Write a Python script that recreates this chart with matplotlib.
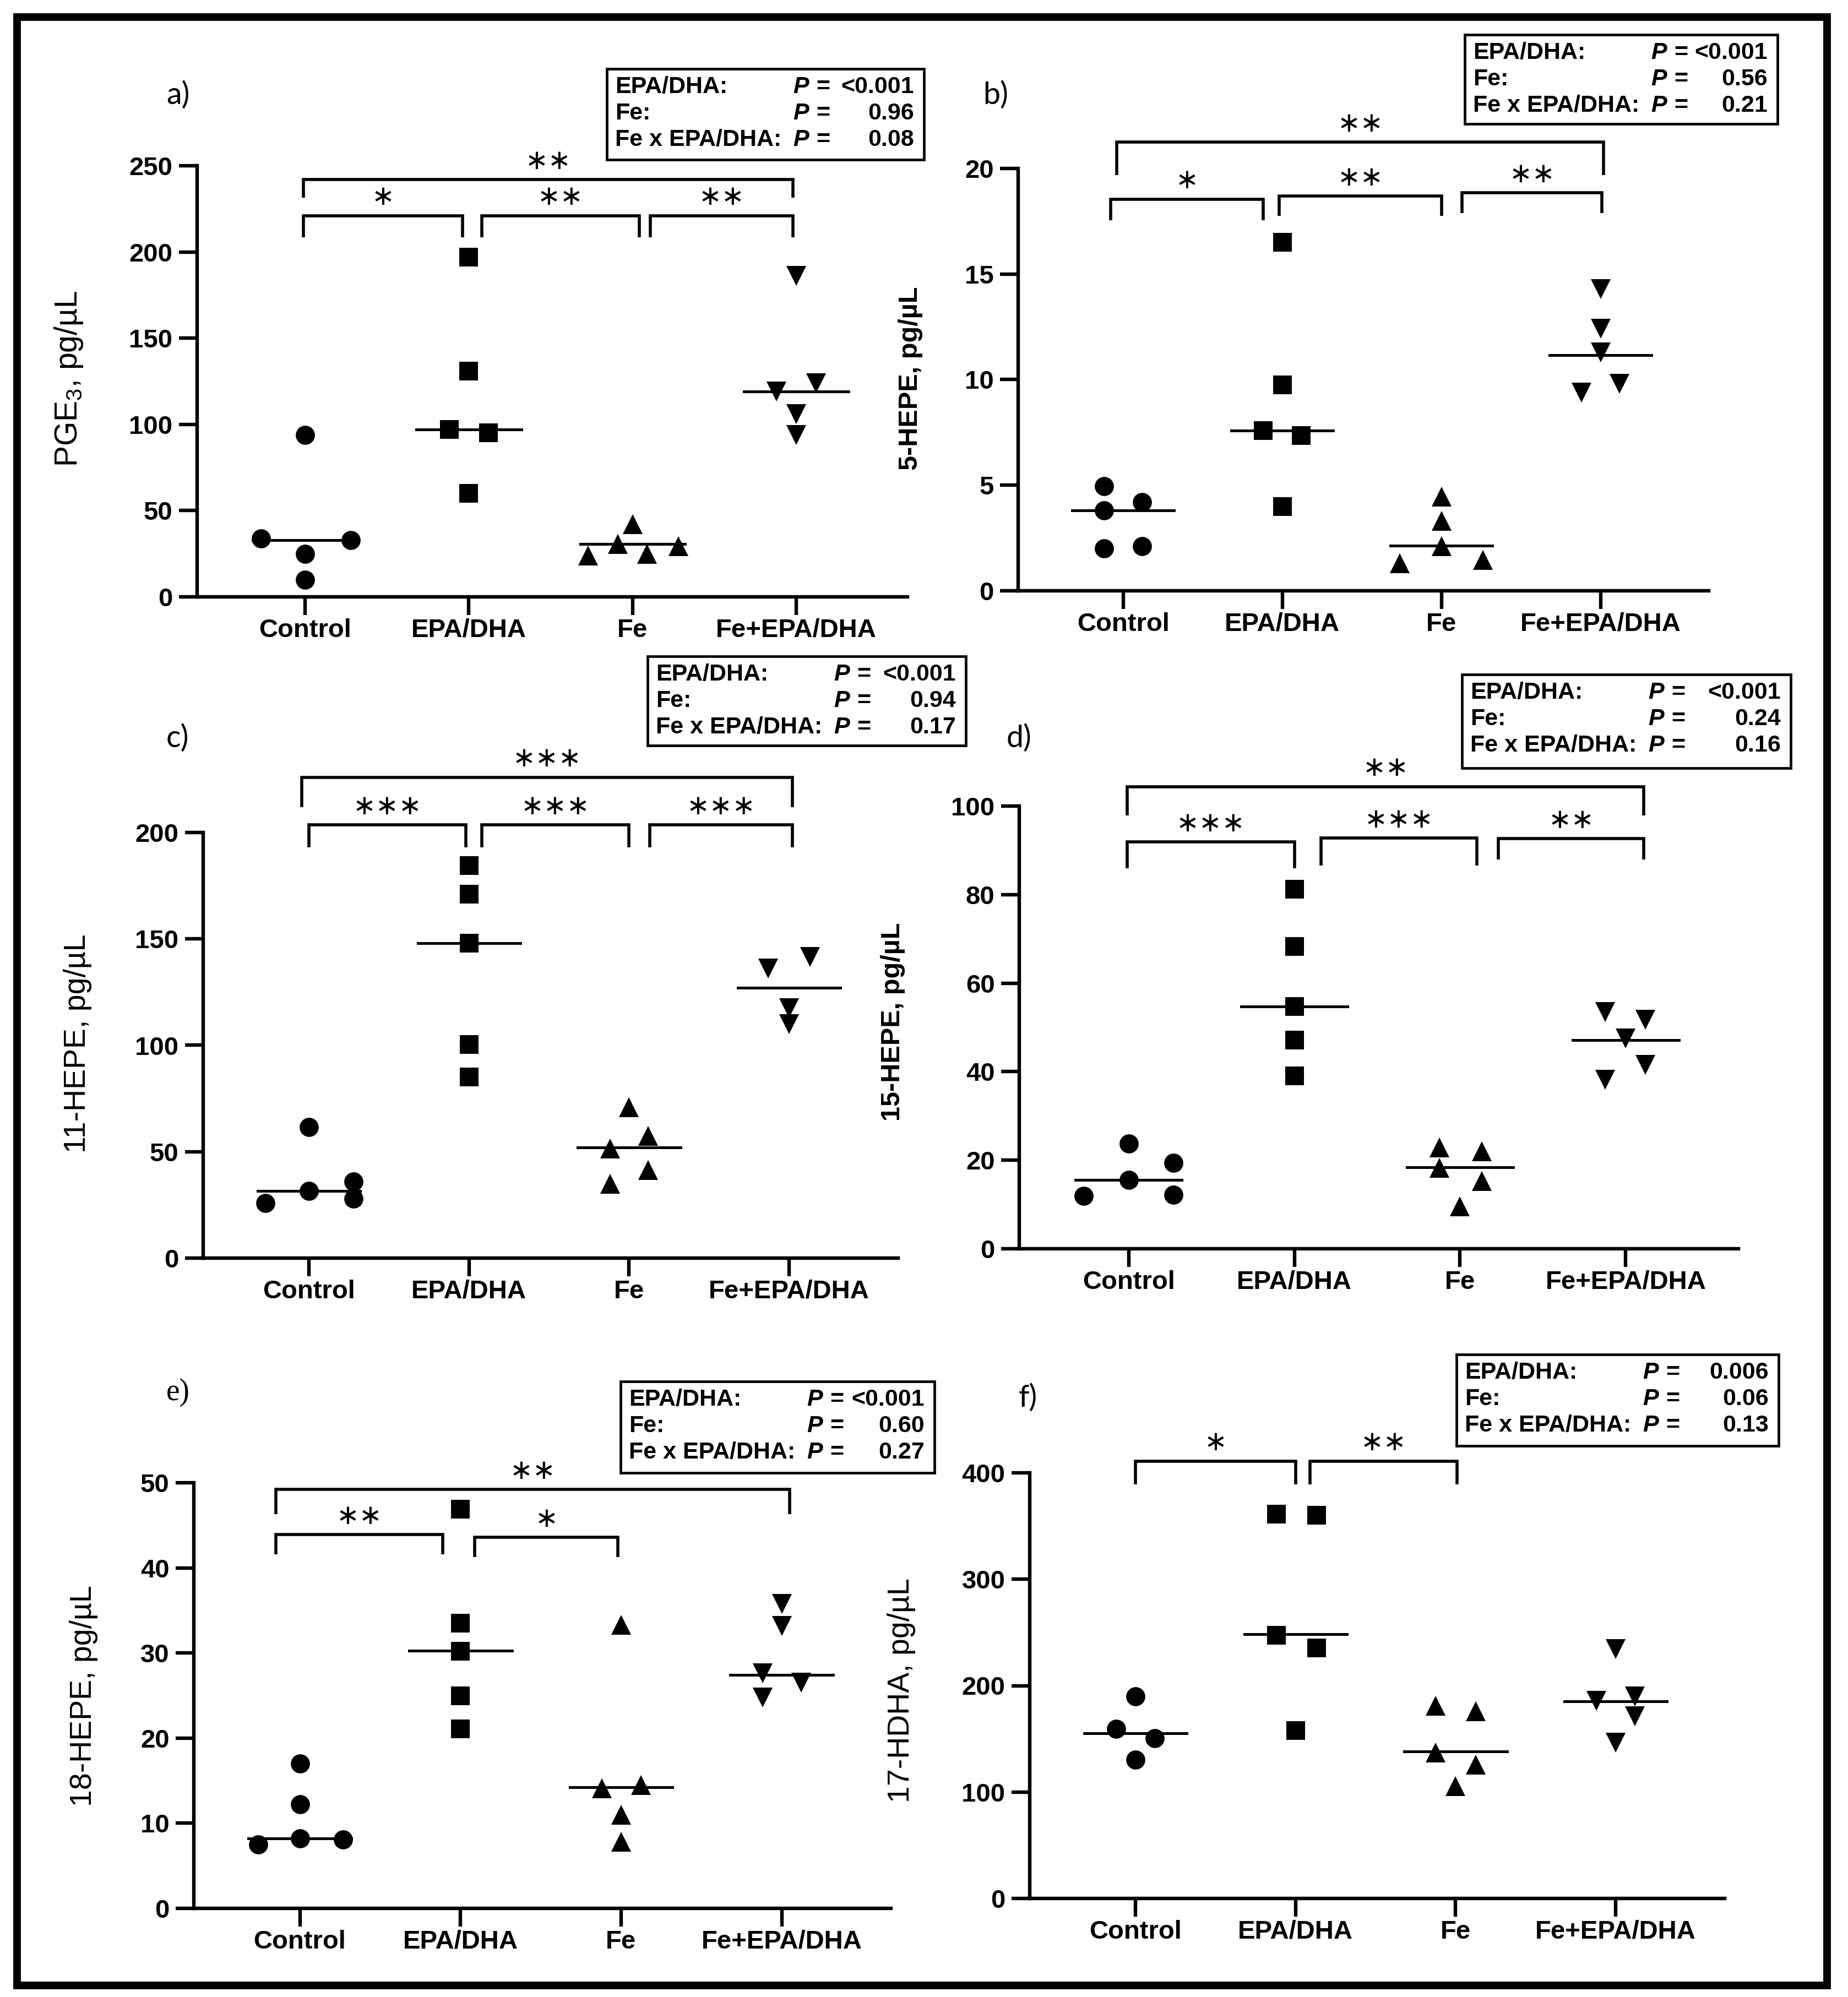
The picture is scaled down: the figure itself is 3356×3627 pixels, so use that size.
import numpy as np
import matplotlib
matplotlib.use("Agg")
import matplotlib.pyplot as plt
from matplotlib.patches import Rectangle

W, H, DPI = 3356, 3627, 200

plt.rcParams['font.family'] = ['Liberation Sans', 'DejaVu Sans']
plt.rcParams['mathtext.default'] = 'regular'

categories = ["Control", "EPA/DHA", "Fe", "Fe+EPA/DHA"]
effects = ["EPA/DHA:", "Fe:", "Fe x EPA/DHA:"]

# %% values, one list per group
pge3_vals = [[94, 34, 33, 25, 10], [197, 131, 97, 95, 60],
             [42, 30.5, 24, 25, 29.5], [186, 119, 124, 106, 94]]
pge3_dx = [[0, -0.27, 0.28, 0, 0], [0, 0, -0.12, 0.12, 0],
           [0, -0.09, -0.27, 0.09, 0.28], [0, -0.12, 0.12, 0, 0]]
pge3_med = [33, 97, 30.5, 119]
pge3_p = ["<0.001", "0.96", "0.08"]

hepe5_vals = [[4.95, 4.2, 3.8, 2.0, 2.1], [16.5, 9.75, 7.6, 7.35, 4.0],
              [4.45, 3.3, 2.1, 1.3, 1.45], [14.3, 12.4, 11.3, 9.4, 9.8]]
hepe5_dx = [[-0.12, 0.12, -0.12, -0.12, 0.12], [0, 0, -0.12, 0.12, 0],
            [0, 0, 0, -0.26, 0.26], [0, 0, 0, -0.12, 0.12]]
hepe5_med = [3.8, 7.6, 2.15, 11.15]
hepe5_p = ["<0.001", "0.56", "0.21"]

hepe11_vals = [[61.5, 26, 31.5, 36, 28], [184.5, 171, 148, 100.5, 85],
               [71, 57.5, 51.5, 41.5, 35], [136, 141.5, 117.5, 110]]
hepe11_dx = [[0, -0.27, 0, 0.28, 0.28], [0, 0, 0, 0, 0],
             [0, 0.12, -0.12, 0.12, -0.12], [-0.13, 0.13, 0, 0]]
hepe11_med = [31.5, 148, 52, 127]
hepe11_p = ["<0.001", "0.94", "0.17"]

hepe15_vals = [[23.7, 19.4, 15.5, 11.9, 12.2], [81.2, 68.3, 54.7, 47.1, 39],
               [22.9, 22, 18.3, 15.3, 9.6], [53.5, 51.8, 47.5, 41.5, 38.2]]
hepe15_dx = [[0, 0.27, 0, -0.27, 0.27], [0, 0, 0, 0, 0],
             [-0.125, 0.13, -0.125, 0.13, 0], [-0.125, 0.12, 0, 0.12, -0.125]]
hepe15_med = [15.5, 54.7, 18.4, 47.1]
hepe15_p = ["<0.001", "0.24", "0.16"]

hepe18_vals = [[17, 12.2, 7.5, 8.2, 8.1], [46.9, 33.5, 30.2, 25, 21.1],
               [33.3, 14.1, 14.5, 11.0, 7.8], [35.8, 33.2, 27.6, 26.5, 24.8]]
hepe18_dx = [[0, 0, -0.26, 0, 0.27], [0, 0, 0, 0, 0],
             [0, -0.12, 0.125, 0, 0], [0, 0, -0.12, 0.12, -0.12]]
hepe18_med = [8.2, 30.3, 14.2, 27.4]
hepe18_p = ["<0.001", "0.60", "0.27"]

hdha17_vals = [[189.7, 159.2, 150.5, 130.3], [361, 360, 247.6, 235.4, 158],
               [181, 176, 137, 125.7, 105.5], [234.3, 186, 189.7, 171.4, 146.7]]
hdha17_dx = [[0, -0.12, 0.12, 0], [-0.12, 0.13, -0.12, 0.13, 0],
             [-0.125, 0.125, -0.125, 0.125, 0], [0, -0.12, 0.12, 0.12, 0]]
hdha17_med = [155.4, 248.4, 138.3, 185.5]
hdha17_p = ["0.006", "0.06", "0.13"]

# significance brackets: x from, x to, top, leg end, stars
pge3_br = [(-0.01, 2.98, 242, 231.5, "**"), (-0.01, 0.96, 221, 208.5, "*"),
           (1.08, 2.04, 221, 208.5, "**"), (2.11, 2.98, 221, 208.5, "**")]
hepe5_br = [(-0.04, 3.02, 21.25, 19.7, "**"), (-0.08, 0.88, 18.55, 17.55, "*"),
            (0.98, 2.0, 18.7, 17.75, "**"), (2.13, 3.01, 18.85, 17.9, "**")]
hepe11_br = [(-0.045, 3.02, 226, 212, "***"), (0.0, 0.98, 203.5, 193, "***"),
             (1.08, 2.0, 203.5, 193, "***"), (2.13, 3.02, 203.5, 193, "***")]
hepe15_br = [(-0.01, 3.11, 104.4, 97.9, "**"), (-0.01, 1.0, 91.9, 86, "***"),
             (1.16, 2.1, 92.8, 86.6, "***"), (2.23, 3.11, 92.6, 87.9, "**")]
hepe18_br = [(-0.15, 3.05, 49.2, 46.3, "**"), (-0.15, 0.89, 43.9, 41.6, "**"),
             (1.09, 1.98, 43.6, 41.3, "*")]
hdha17_br = [(0.0, 1.0, 411, 389, "*"), (1.09, 2.01, 411, 389, "**")]

markers = [("o", 12.5), ("s", 12), ("^", 13), ("v", 13)]

# layout in pixels: axes (L, T, R, B), stats box (L, T, R, B), ylabel centre, letter centre
panels = [
    dict(vals=pge3_vals, dx=pge3_dx, med=pge3_med, p=pge3_p, br=pge3_br, ymax=250, step=50,
         label=r"PGE$_3$, pg/µL", lw='normal', lsize=20.5, letter="a)",
         ax=(358, 301, 1648, 1084), box=(1102, 125, 1678, 290), lpos=(125, 688), tpos=(323, 173)),
    dict(vals=hepe5_vals, dx=hepe5_dx, med=hepe5_med, p=hepe5_p, br=hepe5_br, ymax=20, step=5,
         label="5-HEPE, pg/µL", lw='bold', lsize=17.5, letter="b)",
         ax=(1849, 306, 3103, 1073), box=(2660, 63, 3228, 225), lpos=(1653, 687), tpos=(1808, 173)),
    dict(vals=hepe11_vals, dx=hepe11_dx, med=hepe11_med, p=hepe11_p, br=hepe11_br, ymax=200, step=50,
         label="11-HEPE, pg/µL", lw='normal', lsize=20, letter="c)",
         ax=(369, 1512, 1631, 2285), box=(1176, 1192, 1754, 1354), lpos=(141, 1895), tpos=(322, 1341)),
    dict(vals=hepe15_vals, dx=hepe15_dx, med=hepe15_med, p=hepe15_p, br=hepe15_br, ymax=100, step=20,
         label="15-HEPE, pg/µL", lw='bold', lsize=17.5, letter="d)",
         ax=(1851, 1464, 3157, 2268), box=(2655, 1225, 3252, 1395), lpos=(1622, 1856), tpos=(1851, 1341)),
    dict(vals=hepe18_vals, dx=hepe18_dx, med=hepe18_med, p=hepe18_p, br=hepe18_br, ymax=50, step=10,
         label="18-HEPE, pg/µL", lw='normal', lsize=20, letter="e)",
         ax=(352, 2693, 1618, 3466), box=(1127, 2509, 1697, 2675), lpos=(152, 3080), tpos=(323, 2529)),
    dict(vals=hdha17_vals, dx=hdha17_dx, med=hdha17_med, p=hdha17_p, br=hdha17_br, ymax=400, step=100,
         label="17-HDHA, pg/µL", lw='normal', lsize=20, letter="f)",
         ax=(1870, 2675, 3132, 3448), box=(2645, 2460, 3230, 2626), lpos=(1637, 3070), tpos=(1867, 2539)),
]

fig = plt.figure(figsize=(W / DPI, H / DPI), dpi=DPI)


def fx(x):
    return x / W


def fy(y):
    return 1 - y / H


for pn in panels:
    L, T, R, B = pn['ax']
    ax = fig.add_axes([fx(L), fy(B), (R - L) / W, (B - T) / H])
    for i, (v, d) in enumerate(zip(pn['vals'], pn['dx'])):
        m, ms = markers[i]
        ax.plot(i + np.array(d), v, ls='none', marker=m, ms=ms, mew=0, color='black', clip_on=False)
        ax.plot([i - 0.32, i + 0.32], [pn['med'][i]] * 2, color='black', lw=1.8)
    ax.set_xlim(-0.66, 3.68)
    ax.set_ylim(0, pn['ymax'])
    ax.set_yticks(np.arange(0, pn['ymax'] + pn['step'] / 2, pn['step']))
    ax.set_xticks(range(4))
    ax.set_xticklabels(categories)
    for s in ['top', 'right']:
        ax.spines[s].set_visible(False)
    for s in ['left', 'bottom']:
        ax.spines[s].set_linewidth(2.3)
    ax.tick_params(axis='both', length=12, width=2.3, labelsize=17)
    ax.tick_params(axis='y', pad=4)
    ax.tick_params(axis='x', pad=2)
    for lbl in ax.get_xticklabels() + ax.get_yticklabels():
        lbl.set_fontweight('bold')

    for x1, x2, yt, yl, stars in pn['br']:
        ax.plot([x1, x1, x2, x2], [yl, yt, yt, yl], color='black', lw=2, clip_on=False,
                solid_joinstyle='miter', solid_capstyle='butt')
        ax.annotate("\u2217" * len(stars), xy=((x1 + x2) / 2, yt), xytext=(0, 12),
                    textcoords='offset points', ha='center', va='center', fontsize=18,
                    family='DejaVu Sans', annotation_clip=False)

    # y label and panel letter
    fig.text(fx(pn['lpos'][0]), fy(pn['lpos'][1]), pn['label'], rotation=90, ha='center', va='center',
             fontsize=pn['lsize'], fontweight=pn['lw'])
    fam = ['Liberation Serif'] if pn['letter'] == "e)" else ['Lato', 'Liberation Sans']
    fig.text(fx(pn['tpos'][0]), fy(pn['tpos'][1]), pn['letter'], ha='center', va='center',
             fontsize=20, family=fam)

    # two-way ANOVA box
    bL, bT, bR, bB = pn['box']
    fig.patches.append(Rectangle((fx(bL), fy(bB)), (bR - bL) / W, (bB - bT) / H, transform=fig.transFigure,
                                 fill=False, lw=1.7, ec='black'))
    for k, (name, pv) in enumerate(zip(effects, pn['p'])):
        y = fy(bT + 33 + 48 * k)
        fig.text(fx(bL + 15), y, name, fontsize=15.5, fontweight='bold', ha='left', va='center')
        fig.text(fx(bL + 338), y, "P", fontsize=15.5, fontweight='bold', style='italic', ha='left', va='center')
        fig.text(fx(bL + 380), y, "=", fontsize=15.5, fontweight='bold', ha='left', va='center')
        fig.text(fx(bR - 18), y, pv, fontsize=15.5, fontweight='bold', ha='right', va='center')

# outer frame
fig.patches.append(Rectangle((fx(31), fy(3606)), (3318 - 31) / W, (3606 - 31) / H, transform=fig.transFigure,
                             fill=False, lw=5, ec='black'))

fig.savefig("out.png", dpi=DPI)
